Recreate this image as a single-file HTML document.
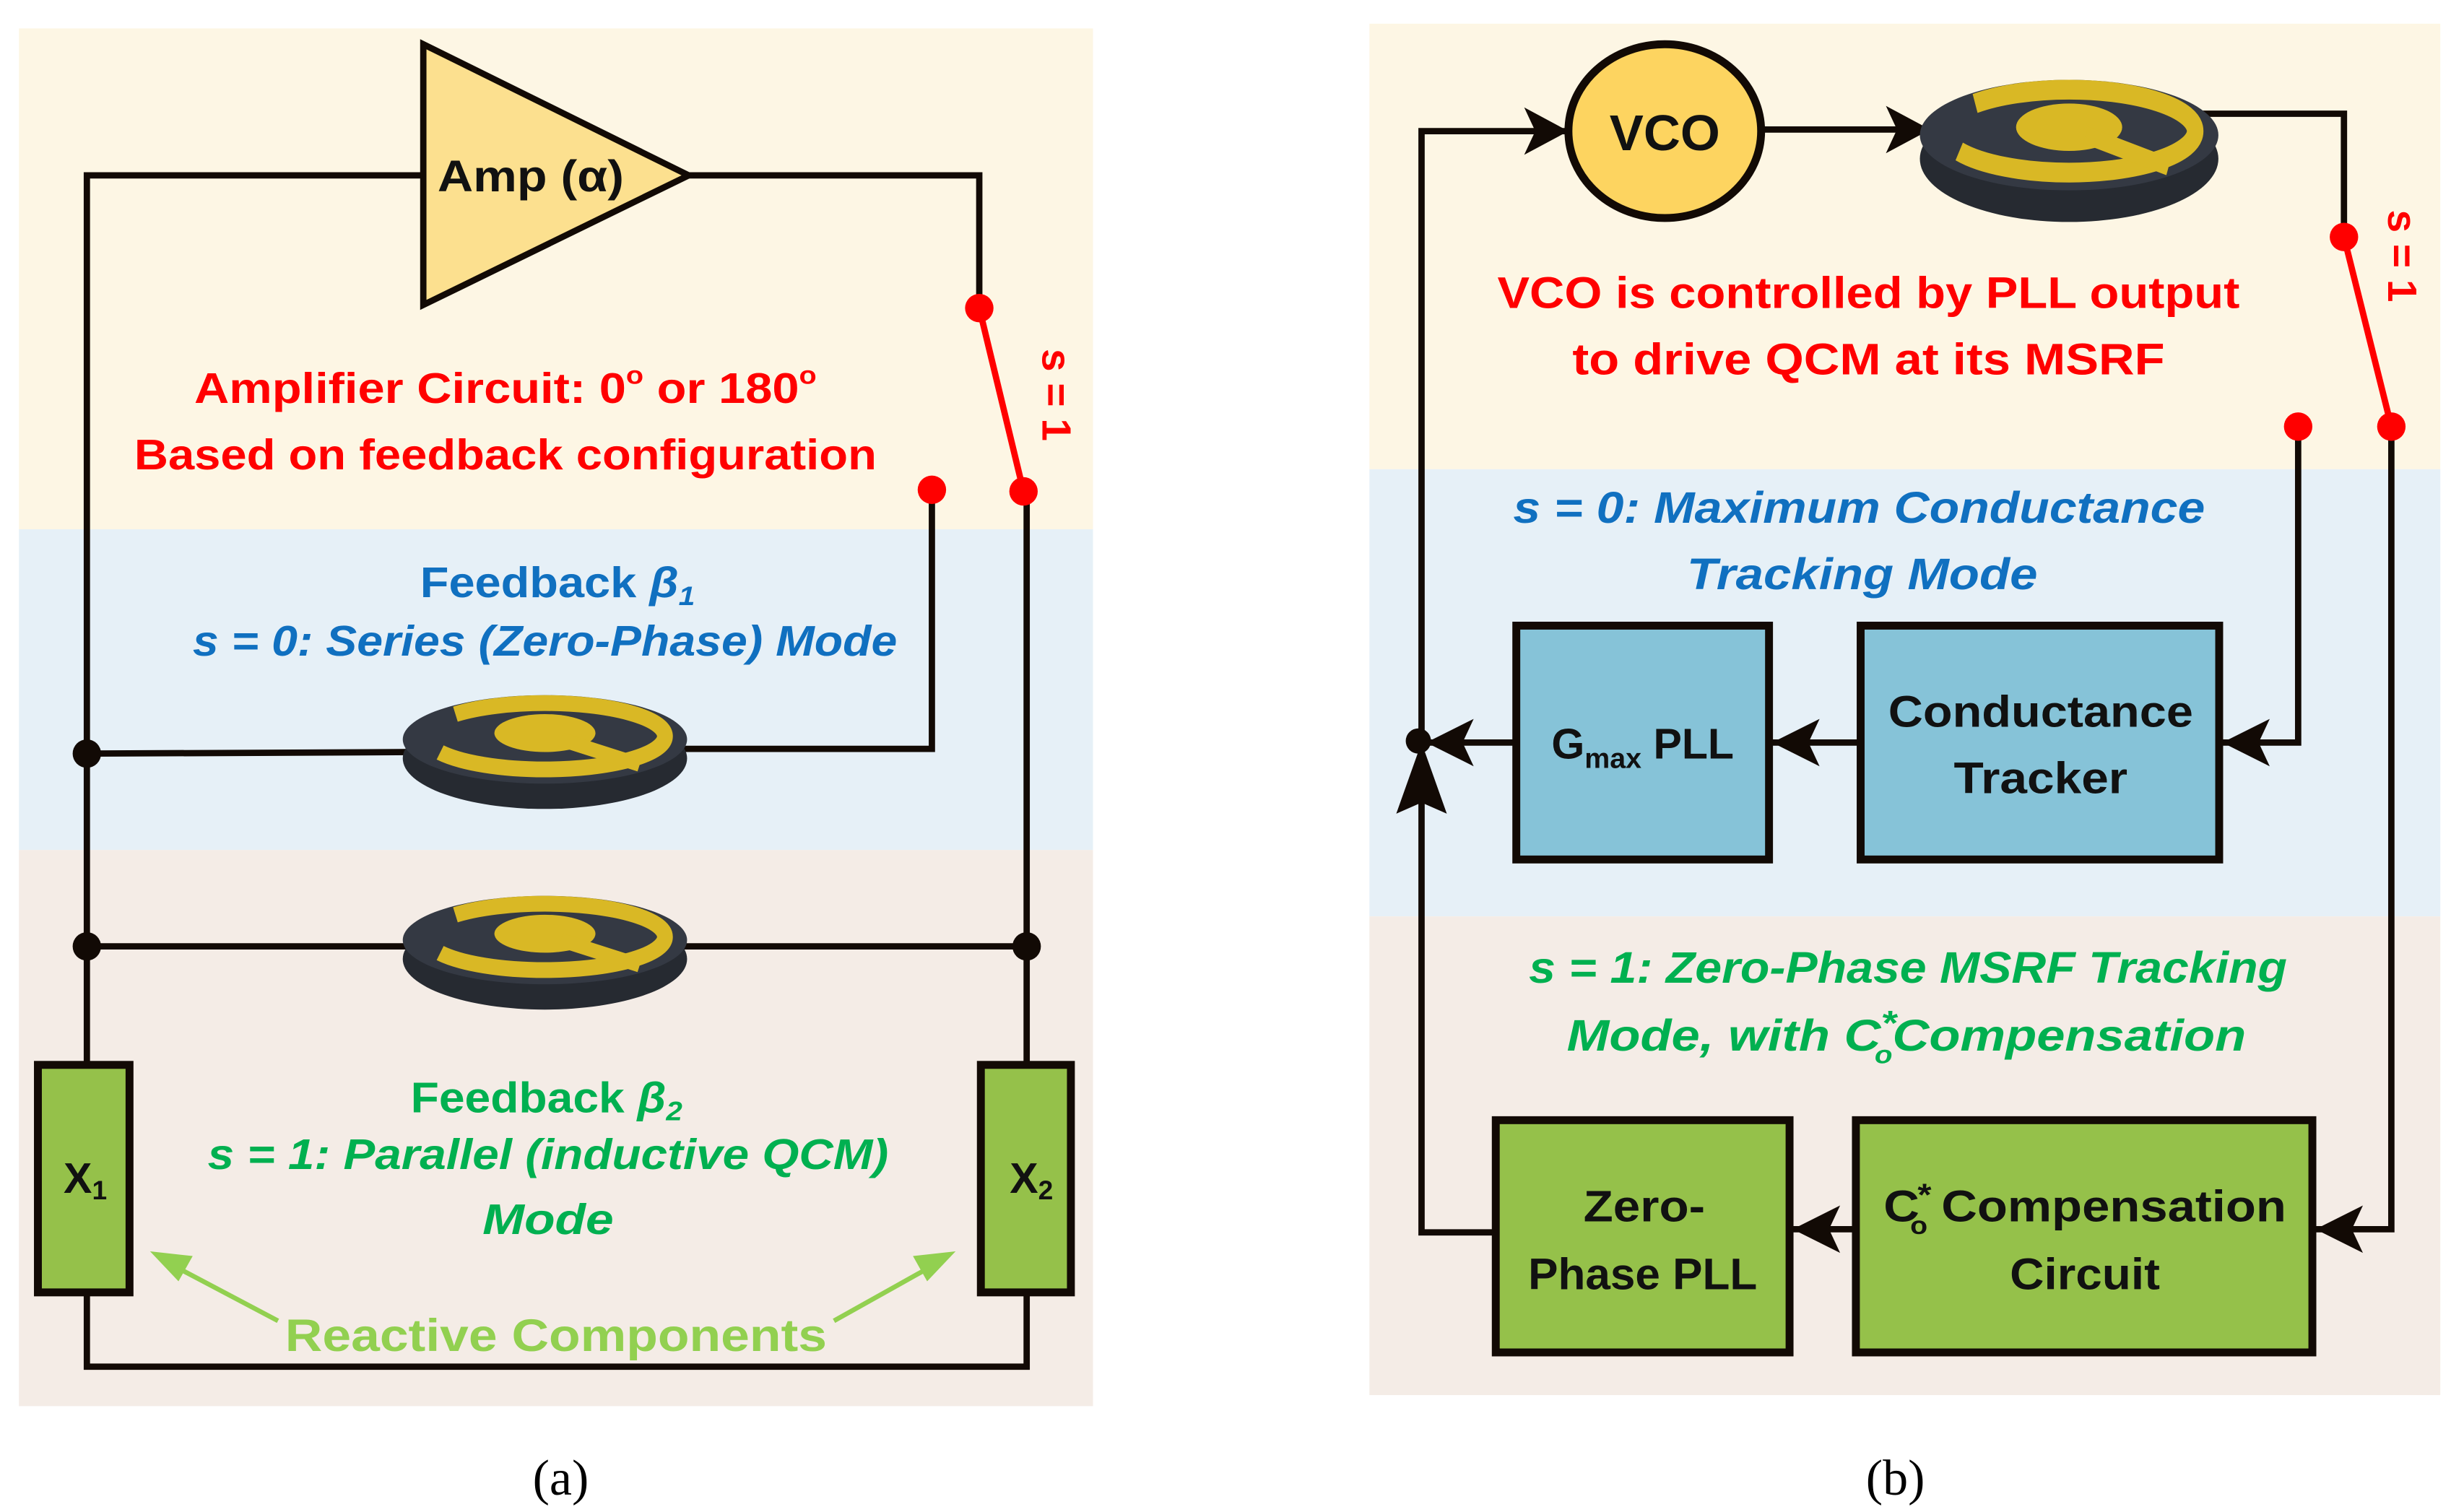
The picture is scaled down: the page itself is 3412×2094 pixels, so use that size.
<!DOCTYPE html>
<html><head><meta charset="utf-8"><style>
html,body{margin:0;padding:0;background:#fff;}
svg{display:block;}
text{font-family:"Liberation Sans",sans-serif;font-weight:bold;}
.it{font-style:italic;}
</style></head><body>
<svg width="3412" height="2094" viewBox="0 0 1560 957" preserveAspectRatio="none" xmlns="http://www.w3.org/2000/svg">
<defs>
<g id="disk">
  <ellipse cx="0" cy="10" rx="90" ry="32" fill="#262a31"/>
  <ellipse cx="0" cy="-2" rx="90" ry="28" fill="#343943"/>
  <ellipse cx="0" cy="-4" rx="76" ry="21" fill="none" stroke="#d9b825" stroke-width="10" stroke-dasharray="150 40"/>
  <ellipse cx="0" cy="-6" rx="32" ry="12" fill="#d9b825"/>
  <line x1="10" y1="-2" x2="60" y2="14" stroke="#d9b825" stroke-width="9"/>
</g>
</defs>
<rect x="12" y="18" width="680" height="317" fill="#fdf6e4"/>
<rect x="12" y="335" width="680" height="203" fill="#e6f0f7"/>
<rect x="12" y="538" width="680" height="352" fill="#f4ece6"/>
<rect x="867" y="15" width="678" height="282" fill="#fdf6e4"/>
<rect x="867" y="297" width="678" height="283" fill="#e6f0f7"/>
<rect x="867" y="580" width="678" height="303" fill="#f4ece6"/>

<g stroke="#120a05" stroke-width="4" fill="none">
  <polyline points="268,111 55,111 55,865 650,865 650,311"/>
  <polyline points="436,111 620,111 620,195"/>
  <polyline points="590,310 590,474 430,474"/>
  <line x1="55" y1="477" x2="260" y2="476"/>
  <line x1="55" y1="599" x2="650" y2="599"/>
</g>
<use href="#disk" x="345" y="470"/>
<use href="#disk" x="345" y="597"/>
<polygon points="268,28 268,193 436,111" fill="#fce08f" stroke="#120a05" stroke-width="4"/>
<text x="336" y="121" font-size="28" text-anchor="middle" textLength="118" lengthAdjust="spacingAndGlyphs" fill="#111">Amp (α)</text>
<g fill="#120a05">
  <circle cx="55" cy="477" r="9"/><circle cx="55" cy="599" r="9"/><circle cx="650" cy="599" r="9"/>
</g>
<line x1="620" y1="195" x2="648" y2="311" stroke="#f00" stroke-width="4"/>
<g fill="#f00"><circle cx="620" cy="195" r="9"/><circle cx="648" cy="311" r="9"/><circle cx="590" cy="310" r="9"/></g>
<rect x="24" y="674" width="58" height="144" fill="#95c14a" stroke="#120a05" stroke-width="5"/>
<rect x="621" y="674" width="57" height="144" fill="#95c14a" stroke="#120a05" stroke-width="5"/>
<text x="54" y="755" font-size="27" text-anchor="middle" fill="#111">X<tspan font-size="17" dy="4">1</tspan></text>
<text x="653" y="755" font-size="27" text-anchor="middle" fill="#111">X<tspan font-size="17" dy="4">2</tspan></text>
<text x="320" y="255" font-size="27" text-anchor="middle" fill="#f00" textLength="394" lengthAdjust="spacingAndGlyphs">Amplifier Circuit: 0<tspan font-size="16" dy="-12">o</tspan><tspan dy="12"> or 180</tspan><tspan font-size="16" dy="-12">o</tspan></text>
<text x="320" y="297" font-size="27" text-anchor="middle" fill="#f00" textLength="470" lengthAdjust="spacingAndGlyphs">Based on feedback configuration</text>
<text transform="translate(660,250) rotate(90)" font-size="26" text-anchor="middle" fill="#f00">s = 1</text>
<text x="353" y="378" font-size="27" text-anchor="middle" fill="#1070c0" textLength="174" lengthAdjust="spacingAndGlyphs">Feedback <tspan class="it">β</tspan><tspan class="it" font-size="17" dy="5">1</tspan></text>
<text x="345" y="415" font-size="27" class="it" text-anchor="middle" fill="#1070c0" textLength="446" lengthAdjust="spacingAndGlyphs">s = 0: Series (Zero-Phase) Mode</text>
<text x="346" y="704" font-size="27" text-anchor="middle" fill="#00b050" textLength="172" lengthAdjust="spacingAndGlyphs">Feedback <tspan class="it">β</tspan><tspan class="it" font-size="17" dy="5">2</tspan></text>
<text x="347" y="740" font-size="27" class="it" text-anchor="middle" fill="#00b050" textLength="431" lengthAdjust="spacingAndGlyphs">s = 1: Parallel (inductive QCM)</text>
<text x="347" y="781" font-size="27" class="it" text-anchor="middle" fill="#00b050" textLength="83" lengthAdjust="spacingAndGlyphs">Mode</text>
<text x="352" y="855" font-size="29" text-anchor="middle" fill="#92d050" textLength="343" lengthAdjust="spacingAndGlyphs">Reactive Components</text>
<g stroke="#92d050" stroke-width="3"><line x1="176" y1="836" x2="104" y2="798"/><line x1="528" y1="836" x2="596" y2="798"/></g>
<g fill="#92d050"><polygon points="95,792 122,795 113,811"/><polygon points="605,792 587,811 578,795"/></g>
<text x="355" y="946" font-size="32" text-anchor="middle" style="font-family:'Liberation Serif',serif;font-weight:normal">(a)</text>

<g stroke="#120a05" stroke-width="4" fill="none">
  <polyline points="993,83 900,83 900,780 946,780"/>
  <line x1="1116" y1="82" x2="1225" y2="82"/>
  <polyline points="1390,72 1484,72 1484,150"/>
  <polyline points="1455,270 1455,470 1405,470"/>
  <polyline points="1514,270 1514,778 1464,778"/>
  <line x1="1177" y1="470" x2="1120" y2="470"/>
  <line x1="959" y1="470" x2="900" y2="470"/>
  <line x1="1174" y1="778" x2="1133" y2="778"/>
</g>
<g fill="#120a05">
  <polygon points="993,83 965,68 972,83 965,98"/>
  <polygon points="1222,82 1194,67 1201,82 1194,97"/>
  <polygon points="1407,470 1437,455 1430,470 1437,485"/>
  <polygon points="1122,470 1152,455 1145,470 1152,485"/>
  <polygon points="903,470 933,455 926,470 933,485"/>
  <polygon points="900,470 884,515 900,508 916,515"/>
  <polygon points="1466,778 1496,763 1489,778 1496,793"/>
  <polygon points="1135,778 1165,763 1158,778 1165,793"/>
  <circle cx="898" cy="469" r="8"/>
</g>
<g transform="translate(1310,88) scale(1.05,1.25)"><use href="#disk"/></g>
<ellipse cx="1054" cy="83" rx="61" ry="55" fill="#fdd460" stroke="#120a05" stroke-width="5"/>
<text x="1054" y="95" font-size="32" text-anchor="middle" fill="#111" textLength="70" lengthAdjust="spacingAndGlyphs">VCO</text>
<line x1="1484" y1="150" x2="1514" y2="270" stroke="#f00" stroke-width="4"/>
<g fill="#f00"><circle cx="1484" cy="150" r="9"/><circle cx="1514" cy="270" r="9"/><circle cx="1455" cy="270" r="9"/></g>
<text transform="translate(1512,162) rotate(90)" font-size="26" text-anchor="middle" fill="#f00">s = 1</text>
<rect x="960" y="396" width="160" height="148" fill="#86c3d8" stroke="#120a05" stroke-width="5"/>
<rect x="1178" y="396" width="227" height="148" fill="#86c3d8" stroke="#120a05" stroke-width="5"/>
<rect x="947" y="709" width="186" height="147" fill="#95c14a" stroke="#120a05" stroke-width="5"/>
<rect x="1175" y="709" width="289" height="147" fill="#95c14a" stroke="#120a05" stroke-width="5"/>
<text x="1040" y="480" font-size="27" text-anchor="middle" fill="#111">G<tspan font-size="18" dy="6">max</tspan><tspan dy="-6"> PLL</tspan></text>
<text x="1292" y="460" font-size="28" text-anchor="middle" fill="#111" textLength="193" lengthAdjust="spacingAndGlyphs">Conductance</text>
<text x="1292" y="502" font-size="28" text-anchor="middle" fill="#111" textLength="110" lengthAdjust="spacingAndGlyphs">Tracker</text>
<text x="1041" y="773" font-size="28" text-anchor="middle" fill="#111" textLength="77" lengthAdjust="spacingAndGlyphs">Zero-</text>
<text x="1040" y="816" font-size="28" text-anchor="middle" fill="#111" textLength="145" lengthAdjust="spacingAndGlyphs">Phase PLL</text>
<text x="1320" y="773" font-size="28" text-anchor="middle" fill="#111" textLength="255" lengthAdjust="spacingAndGlyphs">C<tspan font-size="20" dx="-1" dy="-10">*</tspan><tspan font-size="16" dx="-12" dy="18">o</tspan><tspan dy="-8"> Compensation</tspan></text>
<text x="1320" y="816" font-size="28" text-anchor="middle" fill="#111" textLength="95" lengthAdjust="spacingAndGlyphs">Circuit</text>
<text x="1183" y="195" font-size="28" text-anchor="middle" fill="#f00" textLength="470" lengthAdjust="spacingAndGlyphs">VCO is controlled by PLL output</text>
<text x="1183" y="237" font-size="28" text-anchor="middle" fill="#f00" textLength="375" lengthAdjust="spacingAndGlyphs">to drive QCM at its MSRF</text>
<text x="1177" y="331" font-size="28" class="it" text-anchor="middle" fill="#1070c0" textLength="438" lengthAdjust="spacingAndGlyphs">s = 0: Maximum Conductance</text>
<text x="1179" y="373" font-size="28" class="it" text-anchor="middle" fill="#1070c0" textLength="222" lengthAdjust="spacingAndGlyphs">Tracking Mode</text>
<text x="1208" y="622" font-size="28" class="it" text-anchor="middle" fill="#00b050" textLength="480" lengthAdjust="spacingAndGlyphs">s = 1: Zero-Phase MSRF Tracking</text>
<text x="1207" y="665" font-size="28" class="it" text-anchor="middle" fill="#00b050" textLength="430" lengthAdjust="spacingAndGlyphs">Mode, with C<tspan font-size="22" dy="-10">*</tspan><tspan font-size="16" dx="-12" dy="18">o</tspan><tspan dy="-8">Compensation</tspan></text>
<text x="1200" y="946" font-size="32" text-anchor="middle" style="font-family:'Liberation Serif',serif;font-weight:normal">(b)</text>
</svg>
</body></html>
